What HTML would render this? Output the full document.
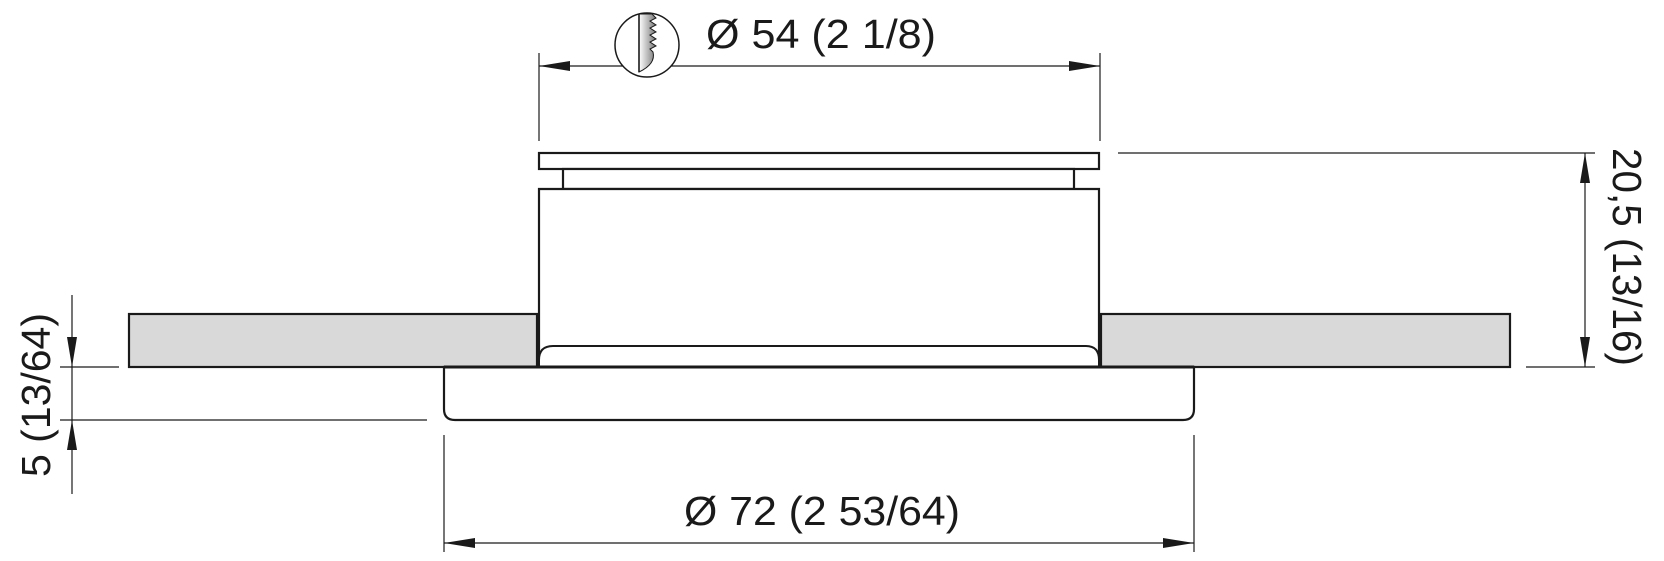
<!DOCTYPE html>
<html><head><meta charset="utf-8"><style>
html,body{margin:0;padding:0;background:#fff;}
svg{display:block;}
text{font-family:"Liberation Sans",sans-serif;fill:#1a1a1a;}
</style></head><body>
<svg width="1664" height="561" viewBox="0 0 1664 561" xmlns="http://www.w3.org/2000/svg">
<defs>
<linearGradient id="g" x1="0" x2="1" y1="0" y2="0">
<stop offset="0" stop-color="#fff"/><stop offset="1" stop-color="#777"/>
</linearGradient>
</defs>
<g stroke="#1a1a1a" fill="none">
<!-- top dimension -->
<line x1="539" y1="53" x2="539" y2="141" stroke-width="1.2"/>
<line x1="1100" y1="53" x2="1100" y2="141" stroke-width="1.2"/>
<line x1="539" y1="66" x2="1100" y2="66" stroke-width="1.2"/>
<!-- saw icon -->
<circle cx="647" cy="45" r="32" fill="#fff" stroke-width="1.5"/>
<path d="M639,14 L652,14 L656,18 L650,21 L656,25 L650,28 L656,32 L650,35 L656,39 L650,42 L656,46 L650,49 L653,52 Q656,64 639,72 Z" fill="url(#g)" stroke-width="1"/>
<line x1="639" y1="14" x2="639" y2="72" stroke-width="1.6"/>
<!-- top plate -->
<rect x="539" y="153" width="560" height="16" fill="#fff" stroke-width="2.2"/>
<rect x="563" y="169" width="511" height="20" fill="#fff" stroke-width="2.2"/>
<!-- slabs -->
<rect x="129" y="314" width="408" height="53" fill="#d9d9d9" stroke-width="2.2"/>
<rect x="1101" y="314" width="409" height="53" fill="#d9d9d9" stroke-width="2.2"/>
<!-- cylinder -->
<path d="M539,367 L539,189 L1099,189 L1099,367" fill="#fff" stroke-width="2.2"/>
<path d="M539,367 L539,360 Q539,346 553,346 L1086,346 Q1099,346 1099,360 L1099,367" fill="#fff" stroke-width="2"/>
<!-- flange -->
<path d="M444,367 L444,409 Q444,420 455,420 L1183,420 Q1194,420 1194,409 L1194,367 Z" fill="#fff" stroke-width="2.2"/>
<line x1="444" y1="367" x2="1194" y2="367" stroke-width="3"/>
<!-- left dimension -->
<line x1="72" y1="295" x2="72" y2="494" stroke-width="1.2"/>
<line x1="60" y1="367" x2="119" y2="367" stroke-width="1.2"/>
<line x1="60" y1="420" x2="427" y2="420" stroke-width="1.2"/>
<!-- right dimension -->
<line x1="1585" y1="153" x2="1585" y2="367" stroke-width="1.2"/>
<line x1="1118" y1="153" x2="1595" y2="153" stroke-width="1.2"/>
<line x1="1526" y1="367" x2="1595" y2="367" stroke-width="1.2"/>
<!-- bottom dimension -->
<line x1="444" y1="435" x2="444" y2="552" stroke-width="1.2"/>
<line x1="1194" y1="435" x2="1194" y2="552" stroke-width="1.2"/>
<line x1="444" y1="543" x2="1194" y2="543" stroke-width="1.2"/>
</g>
<g fill="#1a1a1a">
<!-- top arrows -->
<polygon points="539,66 570,61 570,71"/>
<polygon points="1100,66 1069,61 1069,71"/>
<!-- left arrows -->
<polygon points="72,367 67,337 77,337"/>
<polygon points="72,420 67,450 77,450"/>
<!-- right arrows -->
<polygon points="1585,153 1580,183 1590,183"/>
<polygon points="1585,367 1580,337 1590,337"/>
<!-- bottom arrows -->
<polygon points="444,543 475,538 475,548"/>
<polygon points="1194,543 1163,538 1163,548"/>
</g>
<text x="706" y="48" font-size="41" textLength="230" lengthAdjust="spacingAndGlyphs">Ø 54  (2 1/8)</text>
<text x="684" y="525" font-size="41" textLength="276" lengthAdjust="spacingAndGlyphs">Ø 72  (2 53/64)</text>
<text transform="translate(50,477) rotate(-90)" font-size="41" textLength="164" lengthAdjust="spacingAndGlyphs">5 (13/64)</text>
<text transform="translate(1613,148) rotate(90)" font-size="41" textLength="218" lengthAdjust="spacingAndGlyphs">20,5 (13/16)</text>
</svg>
</body></html>
